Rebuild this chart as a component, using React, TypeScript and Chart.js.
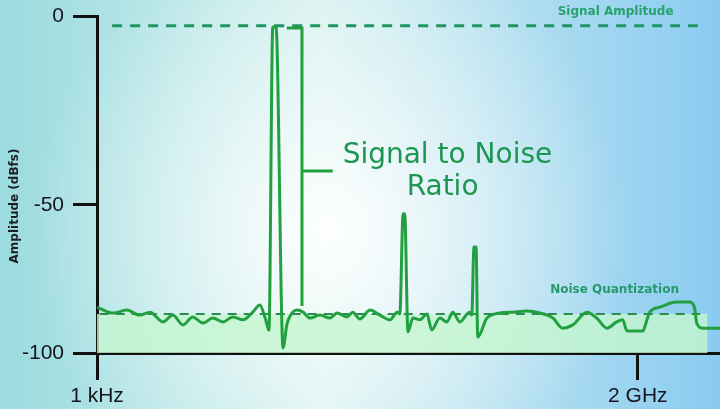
import React, { useEffect, useRef } from 'react';
import { Chart, registerables, LinearScale } from 'chart.js';

Chart.register(...registerables);

// ---- axis definitions ----
const X_TICK_VALUES = [0, 100];
const X_TICK_LABELS = ['1 kHz', '2 GHz'];
const X_MIN = 0;
const X_MAX = 115.2;
const Y_MIN = -100;
const Y_MAX = 0;
const Y_STEP = 50;
const Y_TITLE = 'Amplitude (dBfs)';

// the illustration's amplitude axis is bent at -50 dBfs
const BREAK_VALUE = -50;
const BREAK_FRACTION = 0.4392;

// ---- measured spectrum ----
const SIGNAL_FREQ = [0, 3.0, 5.5, 7.9, 9.8, 12.2, 14.0, 15.9, 17.7, 19.6, 21.4, 23.3, 25.1, 27.0, 28.8, 30.1, 31.1, 31.8, 32.5, 33.1, 34.4, 35.1, 35.7, 37.0, 38.1, 39.4, 41.2, 43.1, 44.4, 46.2, 47.3, 48.6, 50.5, 52.3, 54.2, 55.5, 56.0, 56.6, 56.9, 57.5, 58.4, 59.7, 61.0, 61.9, 63.4, 64.7, 65.8, 67.1, 68.9, 69.3, 69.7, 70.1, 70.4, 72.1, 74.5, 76.9, 79.5, 81.9, 84.3, 86.1, 88.0, 90.6, 92.4, 94.3, 96.1, 97.2, 98.0, 100.9, 101.7, 102.2, 104.1, 107.2, 109.6, 110.5, 110.9, 112.0, 115.2];
const SIGNAL_DBFS = [-84.5, -86.5, -85.5, -87.2, -86.2, -89.5, -87.2, -90.5, -87.8, -89.9, -88.2, -89.5, -87.8, -88.8, -86.2, -83.8, -88.2, -92.3, -2.9, -2.9, -98.3, -90.5, -87.5, -85.5, -86.2, -88.2, -87.2, -88.2, -86.5, -87.8, -86.2, -88.5, -85.5, -87.2, -88.8, -86.2, -86.8, -53, -53, -92.9, -88.2, -88.8, -86.8, -92.2, -88.2, -89.5, -86.2, -89.5, -86.2, -87.2, -64.2, -64.2, -94.6, -88.2, -86.5, -86.2, -85.8, -86.5, -88.2, -91.6, -90.5, -86.2, -88.2, -91.6, -89.5, -88.8, -92.6, -92.6, -88.8, -86.2, -84.5, -82.8, -82.8, -84.8, -89.9, -91.6, -91.6];

// ---- reference levels ----
const SIGNAL_LEVEL_FREQ = [2.8, 111.1];
const SIGNAL_LEVEL_DBFS = [-2.6, -2.6];
const NOISE_LEVEL_FREQ = [0.5, 111.5];
const NOISE_LEVEL_DBFS = [-86.8, -86.8];
const NOISE_FLOOR_FREQ = [0, 112.9];
const NOISE_FLOOR_DBFS = [-86.8, -86.8];

// ---- SNR bracket ----
const BRACKET_FREQ = [35.1, 37.9, 37.9];
const BRACKET_DBFS = [-3.2, -3.2, -84.1];
const BRACKET_ARM_FREQ = [37.9, 43.6];
const BRACKET_ARM_DBFS = [-41, -41];

// ---- annotation texts (anchored in data units) ----
const NOTE_TEXTS = ['Signal Amplitude', 'Noise Quantization', 'Signal to Noise', 'Ratio'];
const NOTE_FREQ = [95.9, 95.7, 64.8, 63.9];
const NOTE_DBFS = [0.3, -79.7, -38.9, -47.4];
const NOTE_FONTS = [
  'bold 12px "DejaVu Sans"',
  'bold 12px "DejaVu Sans"',
  '28px "DejaVu Sans"',
  '28px "DejaVu Sans"',
];
const NOTE_COLORS = ['#27a16e', '#26996b', '#1c9650', '#1c9650'];

const pts = (xs: number[], ys: number[]) => xs.map((x, i) => ({ x, y: ys[i] }));

class BentLinearScale extends LinearScale {
  static id = 'bentLinear';
  static defaults = {};
  getPixelForValue(value: any) {
    if (value === null || value === undefined || isNaN(value)) return NaN;
    const min = this.min as number;
    const max = this.max as number;
    const d =
      value >= BREAK_VALUE
        ? BREAK_FRACTION + ((value - BREAK_VALUE) / (max - BREAK_VALUE)) * (1 - BREAK_FRACTION)
        : ((value - min) / (BREAK_VALUE - min)) * BREAK_FRACTION;
    return this.getPixelForDecimal(d);
  }
  getValueForPixel(pixel: number) {
    const d = this.getDecimalForPixel(pixel);
    const min = this.min as number;
    const max = this.max as number;
    return d >= BREAK_FRACTION
      ? BREAK_VALUE + ((d - BREAK_FRACTION) / (1 - BREAK_FRACTION)) * (max - BREAK_VALUE)
      : min + (d / BREAK_FRACTION) * (BREAK_VALUE - min);
  }
}
Chart.register(BentLinearScale as any);

const backgroundPlugin = {
  id: 'bg',
  beforeDraw(chart: any) {
    const { ctx, width, height } = chart;
    ctx.save();
    const lg = ctx.createLinearGradient(0, 0, width, 0);
    lg.addColorStop(0, '#9bdbdf');
    lg.addColorStop(0.45, '#d6f1ef');
    lg.addColorStop(1, '#8acbf1');
    ctx.fillStyle = lg;
    ctx.fillRect(0, 0, width, height);
    const rg = ctx.createRadialGradient(330, 230, 0, 330, 230, 300);
    rg.addColorStop(0, 'rgba(255,255,255,0.95)');
    rg.addColorStop(0.5, 'rgba(255,255,255,0.45)');
    rg.addColorStop(1, 'rgba(255,255,255,0)');
    ctx.fillStyle = rg;
    ctx.fillRect(0, 0, width, height);
    ctx.restore();
  },
};

const notesPlugin = {
  id: 'notes',
  afterDatasetsDraw(chart: any) {
    const { ctx } = chart;
    const xs = chart.scales.x;
    const ys = chart.scales.y;
    ctx.save();
    ctx.textAlign = 'center';
    ctx.textBaseline = 'alphabetic';
    NOTE_TEXTS.forEach((t, i) => {
      ctx.font = NOTE_FONTS[i];
      ctx.fillStyle = NOTE_COLORS[i];
      ctx.fillText(t, xs.getPixelForValue(NOTE_FREQ[i]), ys.getPixelForValue(NOTE_DBFS[i]));
    });
    // axis title, centred on the -50 dBfs tick as in the illustration
    ctx.translate(15, ys.getPixelForValue(BREAK_VALUE) + 1);
    ctx.rotate(-Math.PI / 2);
    ctx.textBaseline = 'middle';
    ctx.font = 'bold 12px "DejaVu Sans"';
    ctx.fillStyle = '#1e1e26';
    ctx.fillText(Y_TITLE, 0, 0);
    ctx.restore();
  },
};

export default function App() {
  const ref = useRef<HTMLCanvasElement | null>(null);
  useEffect(() => {
    document.body.style.margin = '0';
    const canvas = ref.current;
    if (!canvas) return;
    const green = '#22a040';
    const chart = new Chart(canvas, {
      type: 'line',
      data: {
        datasets: [
          {
            label: 'Signal',
            data: pts(SIGNAL_FREQ, SIGNAL_DBFS),
            borderColor: green,
            borderWidth: 3,
            pointRadius: 0,
            cubicInterpolationMode: 'monotone',
            fill: false,
          },
          {
            label: 'Bracket',
            data: pts(BRACKET_FREQ, BRACKET_DBFS),
            borderColor: green,
            borderWidth: 3,
            pointRadius: 0,
            tension: 0,
            fill: false,
          },
          {
            label: 'BracketArm',
            data: pts(BRACKET_ARM_FREQ, BRACKET_ARM_DBFS),
            borderColor: green,
            borderWidth: 3,
            pointRadius: 0,
            tension: 0,
            fill: false,
          },
          {
            label: 'Signal Amplitude',
            data: pts(SIGNAL_LEVEL_FREQ, SIGNAL_LEVEL_DBFS),
            borderColor: '#1f9562',
            borderWidth: 3,
            borderDash: [10, 8],
            pointRadius: 0,
            fill: false,
          },
          {
            label: 'Noise Quantization',
            data: pts(NOISE_LEVEL_FREQ, NOISE_LEVEL_DBFS),
            borderColor: '#2c8a52',
            borderWidth: 2,
            borderDash: [9, 7],
            pointRadius: 0,
            fill: false,
          },
          {
            label: 'Noise floor',
            data: pts(NOISE_FLOOR_FREQ, NOISE_FLOOR_DBFS),
            borderWidth: 0,
            borderColor: 'rgba(0,0,0,0)',
            backgroundColor: 'rgba(196,246,206,0.8)',
            pointRadius: 0,
            fill: 'start',
          },
        ],
      },
      options: {
        animation: false,
        responsive: false,
        maintainAspectRatio: false,
        devicePixelRatio: 1,
        layout: { padding: { top: 16, right: 0, left: 0, bottom: 0 } },
        plugins: {
          legend: { display: false },
          tooltip: { enabled: false },
        },
        scales: {
          x: {
            type: 'linear',
            min: X_MIN,
            max: X_MAX,
            afterBuildTicks: (s: any) => {
              s.ticks = X_TICK_VALUES.map((v) => ({ value: v }));
            },
            afterFit: (s: any) => {
              s.height = 56;
              s.paddingLeft = 0;
              s.paddingRight = 0;
            },
            border: { display: true, color: '#121212', width: 3 },
            grid: {
              drawOnChartArea: false,
              drawTicks: true,
              tickLength: 27,
              tickColor: '#121212',
              tickWidth: 3,
            },
            ticks: {
              padding: 4,
              maxRotation: 0,
              autoSkip: false,
              color: '#15151d',
              font: { family: '"Liberation Sans", Arial, sans-serif', size: 21 },
              callback: (v: any, i: number) => X_TICK_LABELS[i],
            },
          },
          y: {
            type: 'bentLinear' as any,
            min: Y_MIN,
            max: Y_MAX,
            afterFit: (s: any) => {
              s.width = 97;
              s.paddingTop = 0;
              s.paddingBottom = 0;
            },
            border: { display: true, color: '#121212', width: 3 },
            grid: {
              drawOnChartArea: false,
              drawTicks: true,
              tickLength: 24,
              tickColor: '#121212',
              tickWidth: 3,
            },
            title: { display: false },
            ticks: {
              stepSize: Y_STEP,
              padding: 9,
              color: '#15151d',
              font: { family: '"Liberation Sans", Arial, sans-serif', size: 21 },
            },
          },
        },
      },
      plugins: [backgroundPlugin, notesPlugin],
    } as any);
    return () => chart.destroy();
  }, []);
  return <canvas ref={ref} width={720} height={409} style={{ display: 'block' }} />;
}
